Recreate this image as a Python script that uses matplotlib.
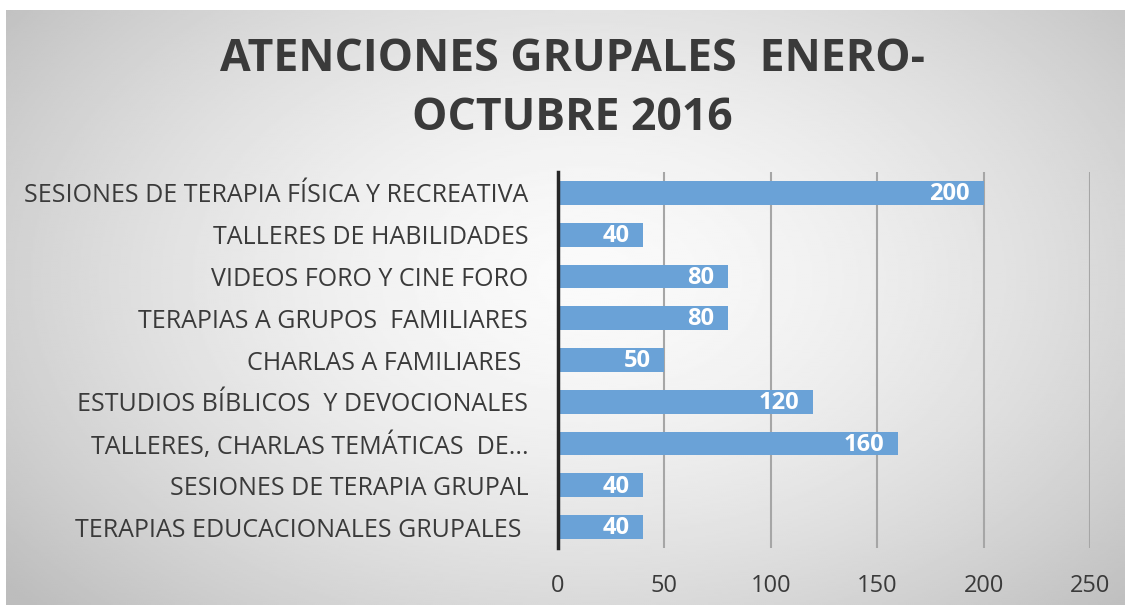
import numpy as np
import matplotlib.pyplot as plt

# Data
categories = [
    "SESIONES DE TERAPIA FÍSICA Y RECREATIVA",
    "TALLERES DE HABILIDADES",
    "VIDEOS FORO Y CINE FORO",
    "TERAPIAS A GRUPOS  FAMILIARES",
    "CHARLAS A FAMILIARES ",
    "ESTUDIOS BÍBLICOS  Y DEVOCIONALES",
    "TALLERES, CHARLAS TEMÁTICAS  DE...",
    "SESIONES DE TERAPIA GRUPAL",
    "TERAPIAS EDUCACIONALES GRUPALES ",
]
values = [200, 40, 80, 80, 50, 120, 160, 40, 40]
xticks = [0, 50, 100, 150, 200, 250]
title = "ATENCIONES GRUPALES  ENERO-\nOCTUBRE 2016"

plt.rcParams['font.family'] = ['Open Sans', 'DejaVu Sans']
text_color = '#3a3a3a'
bar_color = '#6aa2d7'

fig = plt.figure(figsize=(11.25, 6.05), dpi=100)

# gradient background (white centre, grey edges)
bg = fig.add_axes([6 / 1125, 0, 1 - 6 / 1125, 1 - 10 / 605], zorder=-10)
h, w = 300, 560
yy, xx = np.mgrid[0:h, 0:w]
cx, cy = 0.52 * w, 0.45 * h
r = np.sqrt(((xx - cx) / (0.62 * w)) ** 2 + ((yy - cy) / (0.75 * h)) ** 2)
shade = np.clip(0.98 - 0.21 * r ** 1.6, 0.74, 1.0)
bg.imshow(shade, cmap='gray', vmin=0, vmax=1, aspect='auto',
          extent=[0, 1, 0, 1], interpolation='bilinear')
bg.axis('off')

ax = fig.add_axes([558 / 1125, 1 - 548 / 605, 532 / 1125, 376 / 605])
ax.patch.set_alpha(0)

y = np.arange(len(categories))
ax.barh(y, values, height=0.57, color=bar_color, zorder=3)
for yi, v in zip(y, values):
    ax.text(v - 6.5, yi + 0.03, str(v), ha='right', va='center', color='white',
            fontsize=17, fontweight='bold', zorder=4)

ax.set_xlim(0, 250)
ax.set_ylim(len(categories) - 0.5, -0.5)
ax.set_xticks(xticks)
ax.set_yticks(y)
ax.set_yticklabels(categories)
ax.tick_params(axis='y', length=0, pad=21.5, labelsize=18, labelcolor=text_color)
ax.tick_params(axis='x', length=0, pad=19, labelsize=17, labelcolor=text_color)
ax.grid(axis='x', color='#a6a6a6', linewidth=1.5, zorder=0)
for s in ['top', 'right', 'bottom']:
    ax.spines[s].set_visible(False)
ax.spines['left'].set_color('#262626')
ax.spines['left'].set_linewidth(2.5)
ax.spines['left'].set_zorder(5)

fig.text(0.509, 1 - 89 / 605, title, ha='center', va='center',
         fontsize=32, fontweight='bold', color=text_color, linespacing=1.4)

fig.savefig('out.png', dpi=100)
